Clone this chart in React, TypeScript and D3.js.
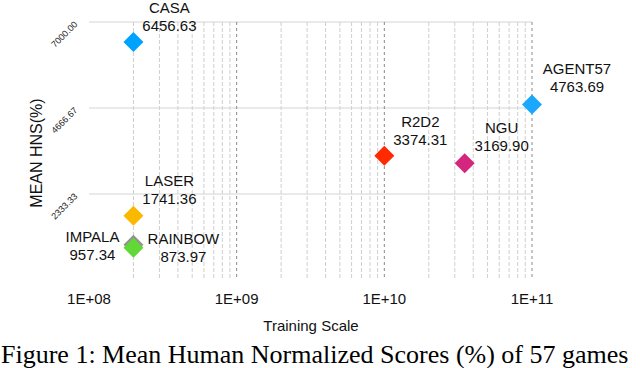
import React, { useRef, useEffect } from 'react'
import * as d3 from 'd3'

const agents = ['CASA', 'AGENT57', 'R2D2', 'NGU', 'LASER', 'IMPALA', 'RAINBOW']
const trainingScale = [2e8, 1e11, 1e10, 3.5e10, 2e8, 2e8, 2e8]
const meanHns = [6456.63, 4763.69, 3374.31, 3169.9, 1741.36, 957.34, 873.97]

const xTicks = [1e8, 1e9, 1e10, 1e11]
const xTickLabels = ['1E+08', '1E+09', '1E+10', '1E+11']
const yTicks = [2333.33, 4666.67, 7000]
const yTickLabels = ['2333.33', '4666.67', '7000.00']

// layout only: marker colours and where each label sits relative to its marker
const colors = ['#00A2FF', '#1AA8FF', '#FF2A00', '#D4267E', '#FBB800', '#929292', '#61D836']
const labelOffsets = [
  [36, -29], [45, -30], [36, -29], [37, -30], [36, -30], [-41, -3], [50, -4],
]

const W = 640
const H = 368
const sans = '"Liberation Sans", Arial, Helvetica, sans-serif'

export default function App() {
  const ref = useRef<SVGSVGElement>(null)

  useEffect(() => {
    const svg = d3.select(ref.current)
    svg.selectAll('*').remove()

    const left = 89
    const right = 532
    const top = 22
    const bottom = 280

    const x = d3.scaleLog().domain([1e8, 1e11]).range([left, right])
    const y = d3.scaleLinear().domain([0, 7000]).range([bottom, top])

    // minor vertical grid
    const minor: number[] = []
    for (let e = 8; e < 11; e++) {
      for (let m = 2; m <= 9; m++) minor.push(m * Math.pow(10, e))
    }
    svg
      .append('g')
      .selectAll('line')
      .data(minor)
      .join('line')
      .attr('x1', (d) => x(d))
      .attr('x2', (d) => x(d))
      .attr('y1', top)
      .attr('y2', bottom)
      .attr('stroke', '#cfcfcf')
      .attr('stroke-width', 1)
      .attr('stroke-dasharray', '4,2')

    // horizontal grid
    svg
      .append('g')
      .selectAll('line')
      .data(yTicks)
      .join('line')
      .attr('x1', left)
      .attr('x2', right)
      .attr('y1', (d) => y(d))
      .attr('y2', (d) => y(d))
      .attr('stroke', '#d4d4d4')
      .attr('stroke-width', 1)

    // decade lines
    svg
      .append('g')
      .selectAll('line')
      .data(xTicks.slice(1))
      .join('line')
      .attr('x1', (d) => x(d))
      .attr('x2', (d) => x(d))
      .attr('y1', top)
      .attr('y2', bottom)
      .attr('stroke', '#8a8a8a')
      .attr('stroke-width', 1)
      .attr('stroke-dasharray', '3,3')

    // x tick labels
    svg
      .append('g')
      .selectAll('text')
      .data(xTicks)
      .join('text')
      .attr('x', (d) => x(d))
      .attr('y', 304)
      .attr('text-anchor', 'middle')
      .attr('font-family', sans)
      .attr('font-size', 15)
      .attr('fill', '#111')
      .text((d, i) => xTickLabels[i])

    // y tick labels, rotated
    svg
      .append('g')
      .selectAll('text')
      .data(yTicks)
      .join('text')
      .attr('transform', (d) => `translate(78,${y(d) + 3}) rotate(-45)`)
      .attr('text-anchor', 'end')
      .attr('font-family', sans)
      .attr('font-size', 9)
      .attr('fill', '#222')
      .text((d, i) => yTickLabels[i])

    // axis titles
    svg
      .append('text')
      .attr('x', 311)
      .attr('y', 331)
      .attr('text-anchor', 'middle')
      .attr('font-family', sans)
      .attr('font-size', 15)
      .attr('fill', '#111')
      .text('Training Scale')

    svg
      .append('text')
      .attr('transform', 'translate(42,153) rotate(-90)')
      .attr('text-anchor', 'middle')
      .attr('font-family', sans)
      .attr('font-size', 16)
      .attr('fill', '#111')
      .text('MEAN HNS(%)')

    // markers
    const diamond = d3.symbol().type(d3.symbolSquare).size(200)
    svg
      .append('g')
      .selectAll('path')
      .data(agents)
      .join('path')
      .attr('d', diamond)
      .attr('transform', (d, i) => `translate(${x(trainingScale[i])},${y(meanHns[i])}) rotate(45)`)
      .attr('fill', (d, i) => colors[i])

    // point labels
    const labels = svg
      .append('g')
      .selectAll('text')
      .data(agents)
      .join('text')
      .attr('text-anchor', 'middle')
      .attr('font-family', sans)
      .attr('font-size', 15)
      .attr('fill', '#111')
    labels
      .append('tspan')
      .attr('x', (d, i) => x(trainingScale[i]) + labelOffsets[i][0])
      .attr('y', (d, i) => y(meanHns[i]) + labelOffsets[i][1])
      .text((d) => d)
    labels
      .append('tspan')
      .attr('x', (d, i) => x(trainingScale[i]) + labelOffsets[i][0])
      .attr('dy', 18)
      .text((d, i) => meanHns[i].toFixed(2))

    // caption
    svg
      .append('text')
      .attr('x', 1)
      .attr('y', 363)
      .attr('font-family', '"Liberation Serif", "Times New Roman", serif')
      .attr('font-size', 26)
      .attr('fill', '#000')
      .text('Figure 1: Mean Human Normalized Scores (%) of 57 games')
  }, [])

  return (
    <div style={{ position: 'fixed', left: 0, top: 0, width: W, height: H, background: '#fff', overflow: 'hidden' }}>
      <svg ref={ref} width={W} height={H} style={{ display: 'block' }}></svg>
    </div>
  )
}
